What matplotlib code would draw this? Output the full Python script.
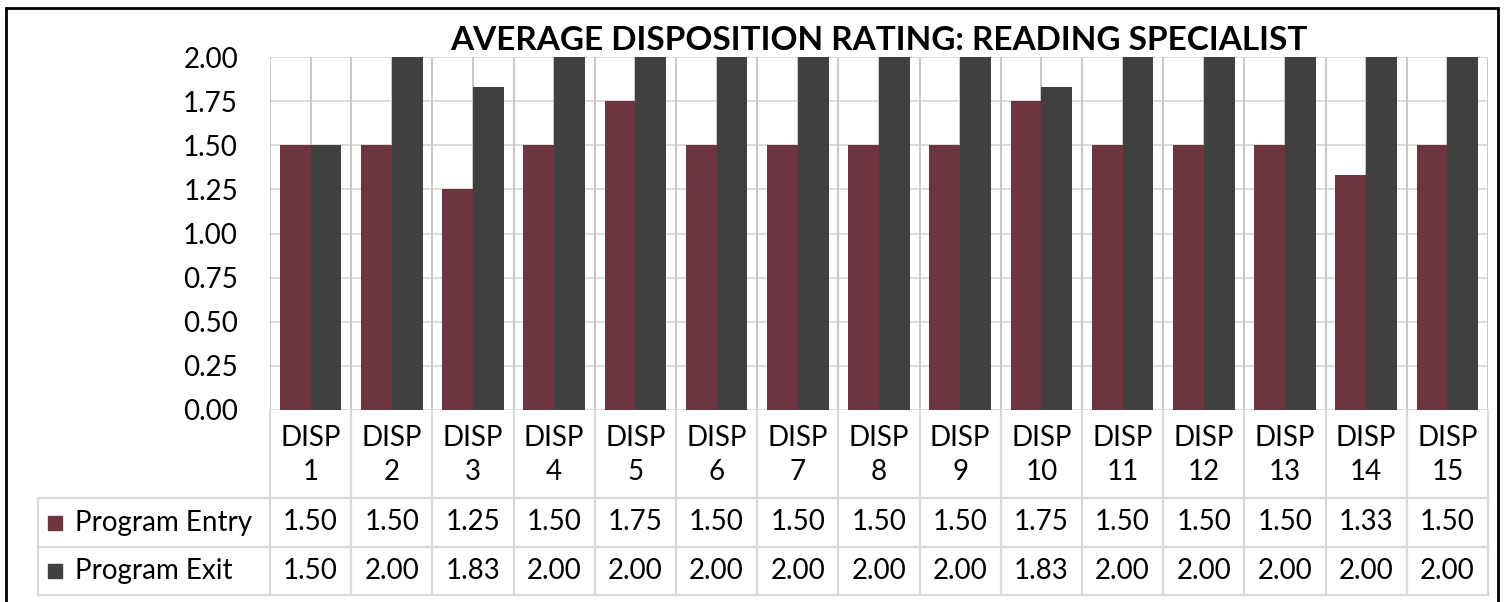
import numpy as np
import matplotlib
matplotlib.use("Agg")
from matplotlib import pyplot as plt
from matplotlib.patches import Rectangle

plt.rcParams['font.family'] = ['Lato', 'DejaVu Sans']

# data
title = "AVERAGE DISPOSITION RATING: READING SPECIALIST"
categories = ["DISP\n%d" % i for i in range(1, 16)]
series_names = ["Program Entry", "Program Exit"]
program_entry = [1.50, 1.50, 1.25, 1.50, 1.75, 1.50, 1.50, 1.50, 1.50, 1.75, 1.50, 1.50, 1.50, 1.33, 1.50]
program_exit = [1.50, 2.00, 1.83, 2.00, 2.00, 2.00, 2.00, 2.00, 2.00, 1.83, 2.00, 2.00, 2.00, 2.00, 2.00]
y_ticks = [0.0, 0.25, 0.5, 0.75, 1.0, 1.25, 1.5, 1.75, 2.0]

colors = ["#6E3540", "#404040"]
grid_color = "#D9D9D9"
fs = 20

# layout in pixels
W, H = 1504, 602
plot_left, plot_right = 270, 1488
plot_top, plot_bottom = 57, 410
table_left = 38
row_bounds = [0, 88, 137, 185]  # header, entry, exit (px below plot bottom)

fig = plt.figure(figsize=(W / 100, H / 100), dpi=100)

ax = fig.add_axes([plot_left / W, (H - plot_bottom) / H,
                   (plot_right - plot_left) / W, (plot_bottom - plot_top) / H])
n = len(categories)
x = np.arange(n)
bar_w = 0.38
ax.bar(x + 0.5 - bar_w, program_entry, width=bar_w, align='edge', color=colors[0], zorder=3)
ax.bar(x + 0.5, program_exit, width=bar_w, align='edge', color=colors[1], zorder=3)

ax.set_xlim(0, n)
ax.set_ylim(0, 2)
ax.set_yticks(y_ticks)
ax.set_yticklabels(["%.2f" % v for v in y_ticks], fontsize=fs)
ax.tick_params(axis='y', length=0, pad=23)
ax.set_xticks([])
for v in y_ticks:
    ax.axhline(v, color=grid_color, lw=1.3, zorder=1)
for v in np.arange(0, n + 0.01, 0.5):
    ax.axvline(v, color="#C4C4C4", lw=1.3, zorder=1)
for s in ax.spines.values():
    s.set_visible(False)

ax.set_title(title, fontsize=24, fontweight='bold', pad=5)

# data table below the plot
tax = fig.add_axes([plot_left / W, (H - plot_bottom - row_bounds[-1]) / H,
                    (plot_right - plot_left) / W, row_bounds[-1] / H])
tax.set_xlim(0, n)
tax.set_ylim(row_bounds[-1], 0)
tax.axis('off')
cat_w = (plot_right - plot_left) / n
x_leg = -(plot_left - table_left) / cat_w

line_kw = dict(color=grid_color, lw=1.6, clip_on=False)
for yb in row_bounds[1:]:
    tax.plot([x_leg, n], [yb, yb], **line_kw)
for xb in range(n + 1):
    tax.plot([xb, xb], [0, row_bounds[-1]], **line_kw)
tax.plot([x_leg, x_leg], [row_bounds[1], row_bounds[-1]], **line_kw)

for i, lab in enumerate(categories):
    tax.text(i + 0.5, (row_bounds[0] + row_bounds[1]) / 2 + 1, lab, ha='center', va='center',
             fontsize=fs, linespacing=1.4)

for r, (name, vals) in enumerate(zip(series_names, [program_entry, program_exit])):
    yc = (row_bounds[r + 1] + row_bounds[r + 2]) / 2
    for i, v in enumerate(vals):
        tax.text(i + 0.5, yc, "%.2f" % v, ha='center', va='center', fontsize=fs)
    sq = 14 / cat_w
    tax.add_patch(Rectangle((x_leg + 10 / cat_w, yc - 7), sq, 14, color=colors[r], clip_on=False))
    tax.text(x_leg + 37 / cat_w, yc, name, ha='left', va='center', fontsize=fs)

# outer chart border
fig.patches.append(Rectangle((6 / W, -0.05), (1498 - 6) / W, 1.05 - 8 / H, fill=False,
                             edgecolor='black', lw=2, transform=fig.transFigure))

fig.savefig("out.png", dpi=100)
